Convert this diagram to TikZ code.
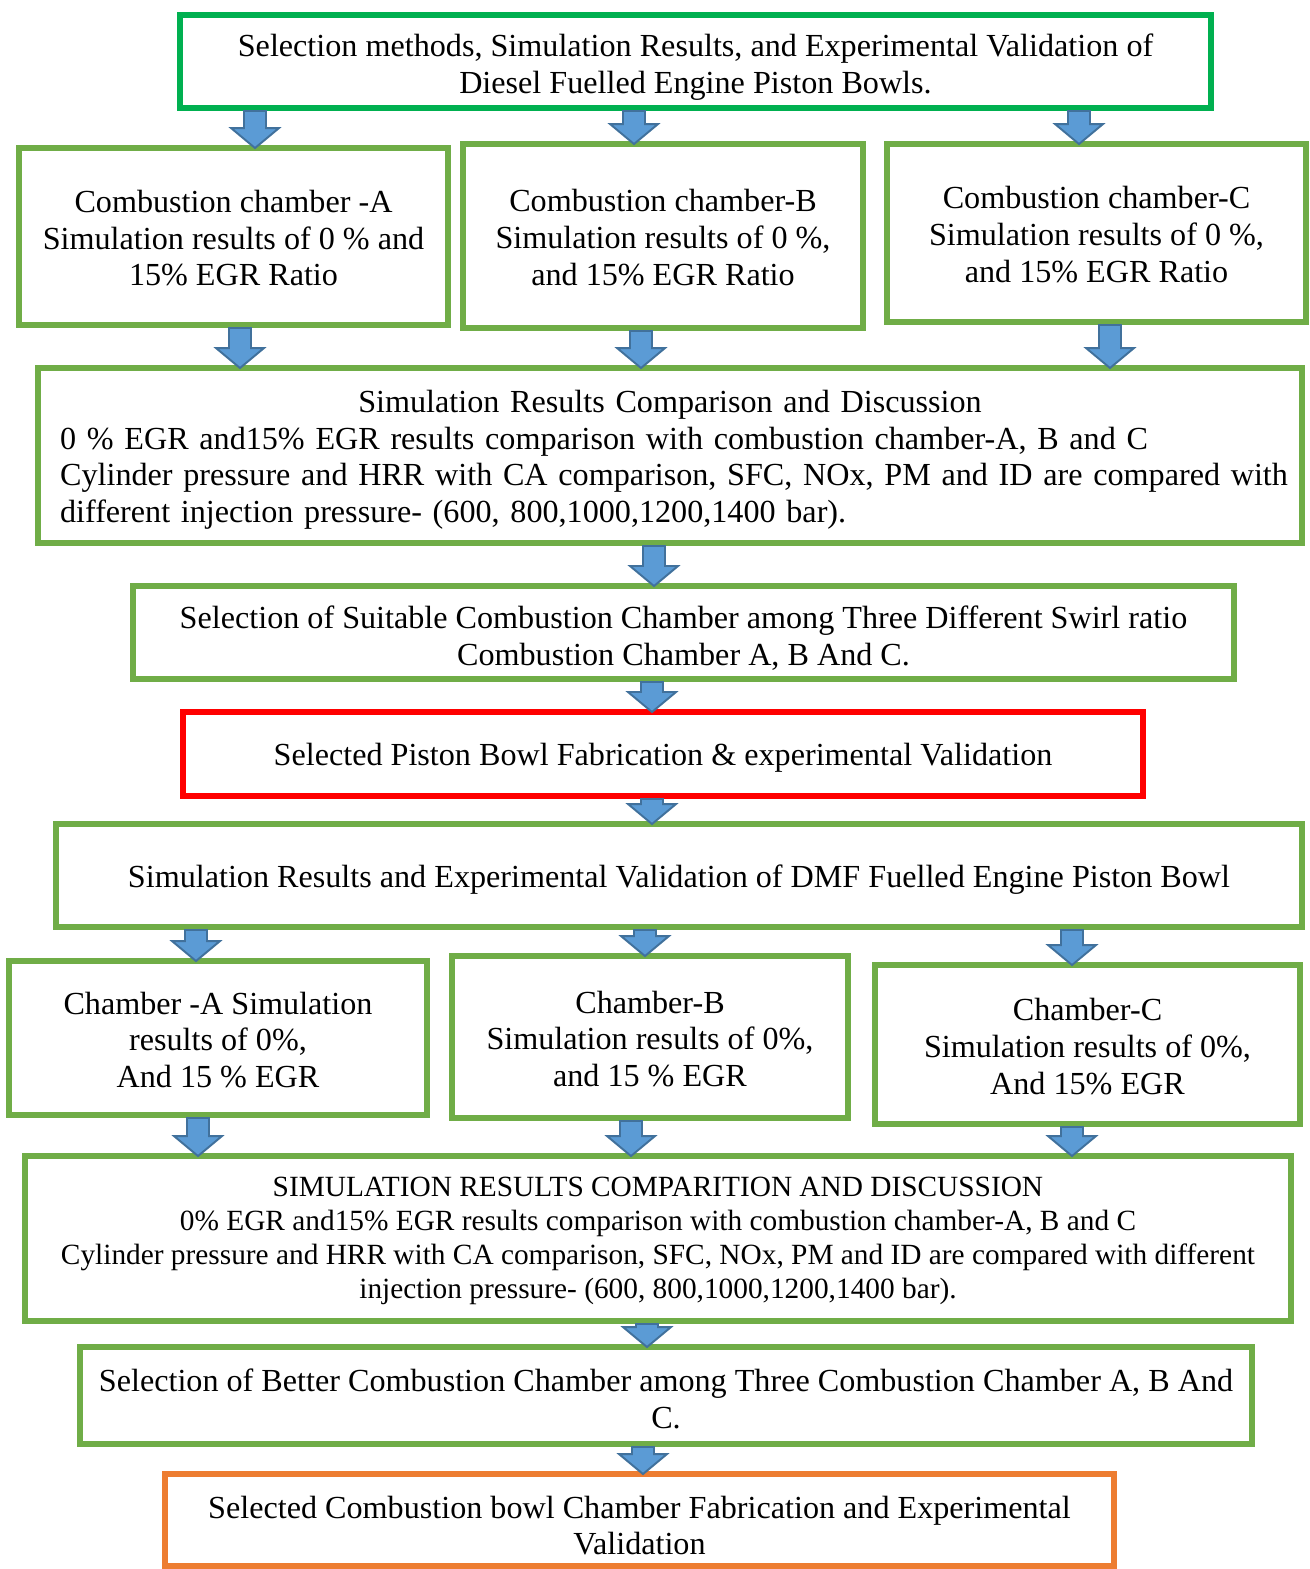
\documentclass[tikz,border=0pt]{standalone}
\usepackage{fontspec}
\setmainfont{Liberation Serif}
\usetikzlibrary{calc}

\definecolor{boxgreen}{HTML}{70AD47}
\definecolor{topgreen}{HTML}{00B050}
\definecolor{boxred}{HTML}{FF0000}
\definecolor{boxorange}{HTML}{ED7D31}
\definecolor{arrowblue}{HTML}{5B9BD5}
\definecolor{arrowedge}{HTML}{41719C}

% block arrow from the bottom of one box to the top of the next, at x (px)
\newcommand\flowarrow[3]{%
  \filldraw[arrowfill] ($(#1.south -| #3,0)+(-11,0)$) -- ($(#2.north -| #3,0)+(-11,-17)$)
    -- ++(-13,0) -- ($(#2.north -| #3,0)+(0,3)$) -- ($(#2.north -| #3,0)+(24,-17)$)
    -- ++(-13,0) -- ($(#1.south -| #3,0)+(11,0)$) -- cycle;
}
\newcommand\topgap{\rule{0pt}{17.5pt}}
\newcommand\lift[1][19]{\rule{0pt}{#1pt}}

\begin{document}
\begin{tikzpicture}[
    x=0.02cm, y=-0.02cm,
    box/.style={draw=boxgreen, line width=3.4pt, align=center, inner sep=0pt,
      font=\fontsize{18.3}{21}\selectfont, execute at begin node=\topgap},
    arrowfill/.style={fill=arrowblue, draw=arrowedge, line width=1.1pt, line join=miter}
  ]
    \useasboundingbox (0,0) rectangle (1309,1569);

    \node[box, draw=topgreen, minimum width=20.62cm, minimum height=1.86cm] (title) at (695.5,61.5)
      {\lift Selection methods, Simulation Results, and Experimental Validation of\\Diesel Fuelled Engine Piston Bowls.};

    % diesel chambers
    \node[box, minimum width=8.58cm, minimum height=3.54cm] (cha) at (233.5,236.5)
      {\lift[14.5]Combustion chamber -A\\Simulation results of 0 \% and\\15\% EGR Ratio};
    \node[box, minimum width=8.0cm, minimum height=3.68cm] (chb) at (663,236)
      {\lift[14.5]Combustion chamber-B\\Simulation results of 0 \%,\\and 15\% EGR Ratio};
    \node[box, minimum width=8.38cm, minimum height=3.56cm] (chc) at (1096.5,233)
      {\lift[14.5]Combustion chamber-C\\Simulation results of 0 \%,\\and 15\% EGR Ratio};

    \node[box, minimum width=25.28cm, minimum height=3.5cm, text width=24.4cm, align=left] (cmpa) at (670,455.5)
      {\hfill Simulation Results Comparison and Discussion\hfill\null\\
       0 \% EGR and15\% EGR results comparison with combustion chamber-A, B and C\\
       \makebox[\hsize][s]{Cylinder pressure and HRR with CA comparison, SFC, NOx, PM and ID are compared with}\\
       different injection pressure- (600, 800,1000,1200,1400 bar).};

    \node[box, minimum width=22.02cm, minimum height=1.86cm] (sela) at (683.5,632.5)
      {\lift Selection of Suitable Combustion Chamber among Three Different Swirl ratio\\Combustion Chamber A, B And C.};

    \node[box, draw=boxred, minimum width=19.2cm, minimum height=1.68cm] (fab) at (663,754)
      {Selected Piston Bowl Fabrication \& experimental Validation};

    % DMF chambers
    \node[box, minimum width=24.92cm, minimum height=2.06cm] (dmf) at (679,875.5)
      {Simulation Results and Experimental Validation of DMF Fuelled Engine Piston Bowl};

    \node[box, minimum width=8.36cm, minimum height=3.08cm] (dma) at (218,1038)
      {\lift[15]Chamber -A Simulation\\results of 0\%,\\And 15 \% EGR};
    \node[box, minimum width=7.92cm, minimum height=3.24cm] (dmb) at (650,1037)
      {\lift[15]Chamber-B\\Simulation results of 0\%,\\and 15 \% EGR};
    \node[box, minimum width=8.5cm, minimum height=3.18cm] (dmc) at (1087.5,1044.5)
      {\lift[15]Chamber-C\\Simulation results of 0\%,\\And 15\% EGR};

    \node[box, minimum width=25.32cm, minimum height=3.3cm, font=\fontsize{16.7}{19.3}\selectfont] (cmpb) at (658,1238.5)
      {\lift[14]SIMULATION RESULTS COMPARITION AND DISCUSSION\\
       0\% EGR and15\% EGR results comparison with combustion chamber-A, B and C\\
       Cylinder pressure and HRR with CA comparison, SFC, NOx, PM and ID are compared with different\\
       injection pressure- (600, 800,1000,1200,1400 bar).};

    \node[box, minimum width=23.44cm, minimum height=1.94cm] (selb) at (666,1395.5)
      {\lift[17]Selection of Better Combustion Chamber among Three Combustion Chamber A, B And\\C.};

    \node[box, draw=boxorange, minimum width=18.98cm, minimum height=1.84cm] (final) at (639.5,1520)
      {\lift Selected Combustion bowl Chamber Fabrication and Experimental\\Validation};

    % arrows
    \flowarrow{title}{cha}{255}
    \flowarrow{title}{chb}{634}
    \flowarrow{title}{chc}{1079}
    \flowarrow{cha}{cmpa}{240}
    \flowarrow{chb}{cmpa}{641}
    \flowarrow{chc}{cmpa}{1110}
    \flowarrow{cmpa}{sela}{654}
    \flowarrow{sela}{fab}{652}
    \flowarrow{fab}{dmf}{652}
    \flowarrow{dmf}{dma}{196}
    \flowarrow{dmf}{dmb}{645}
    \flowarrow{dmf}{dmc}{1072}
    \flowarrow{dma}{cmpb}{198}
    \flowarrow{dmb}{cmpb}{631}
    \flowarrow{dmc}{cmpb}{1072}
    \flowarrow{cmpb}{selb}{647}
    \flowarrow{selb}{final}{643}
  \end{tikzpicture}
\end{document}
